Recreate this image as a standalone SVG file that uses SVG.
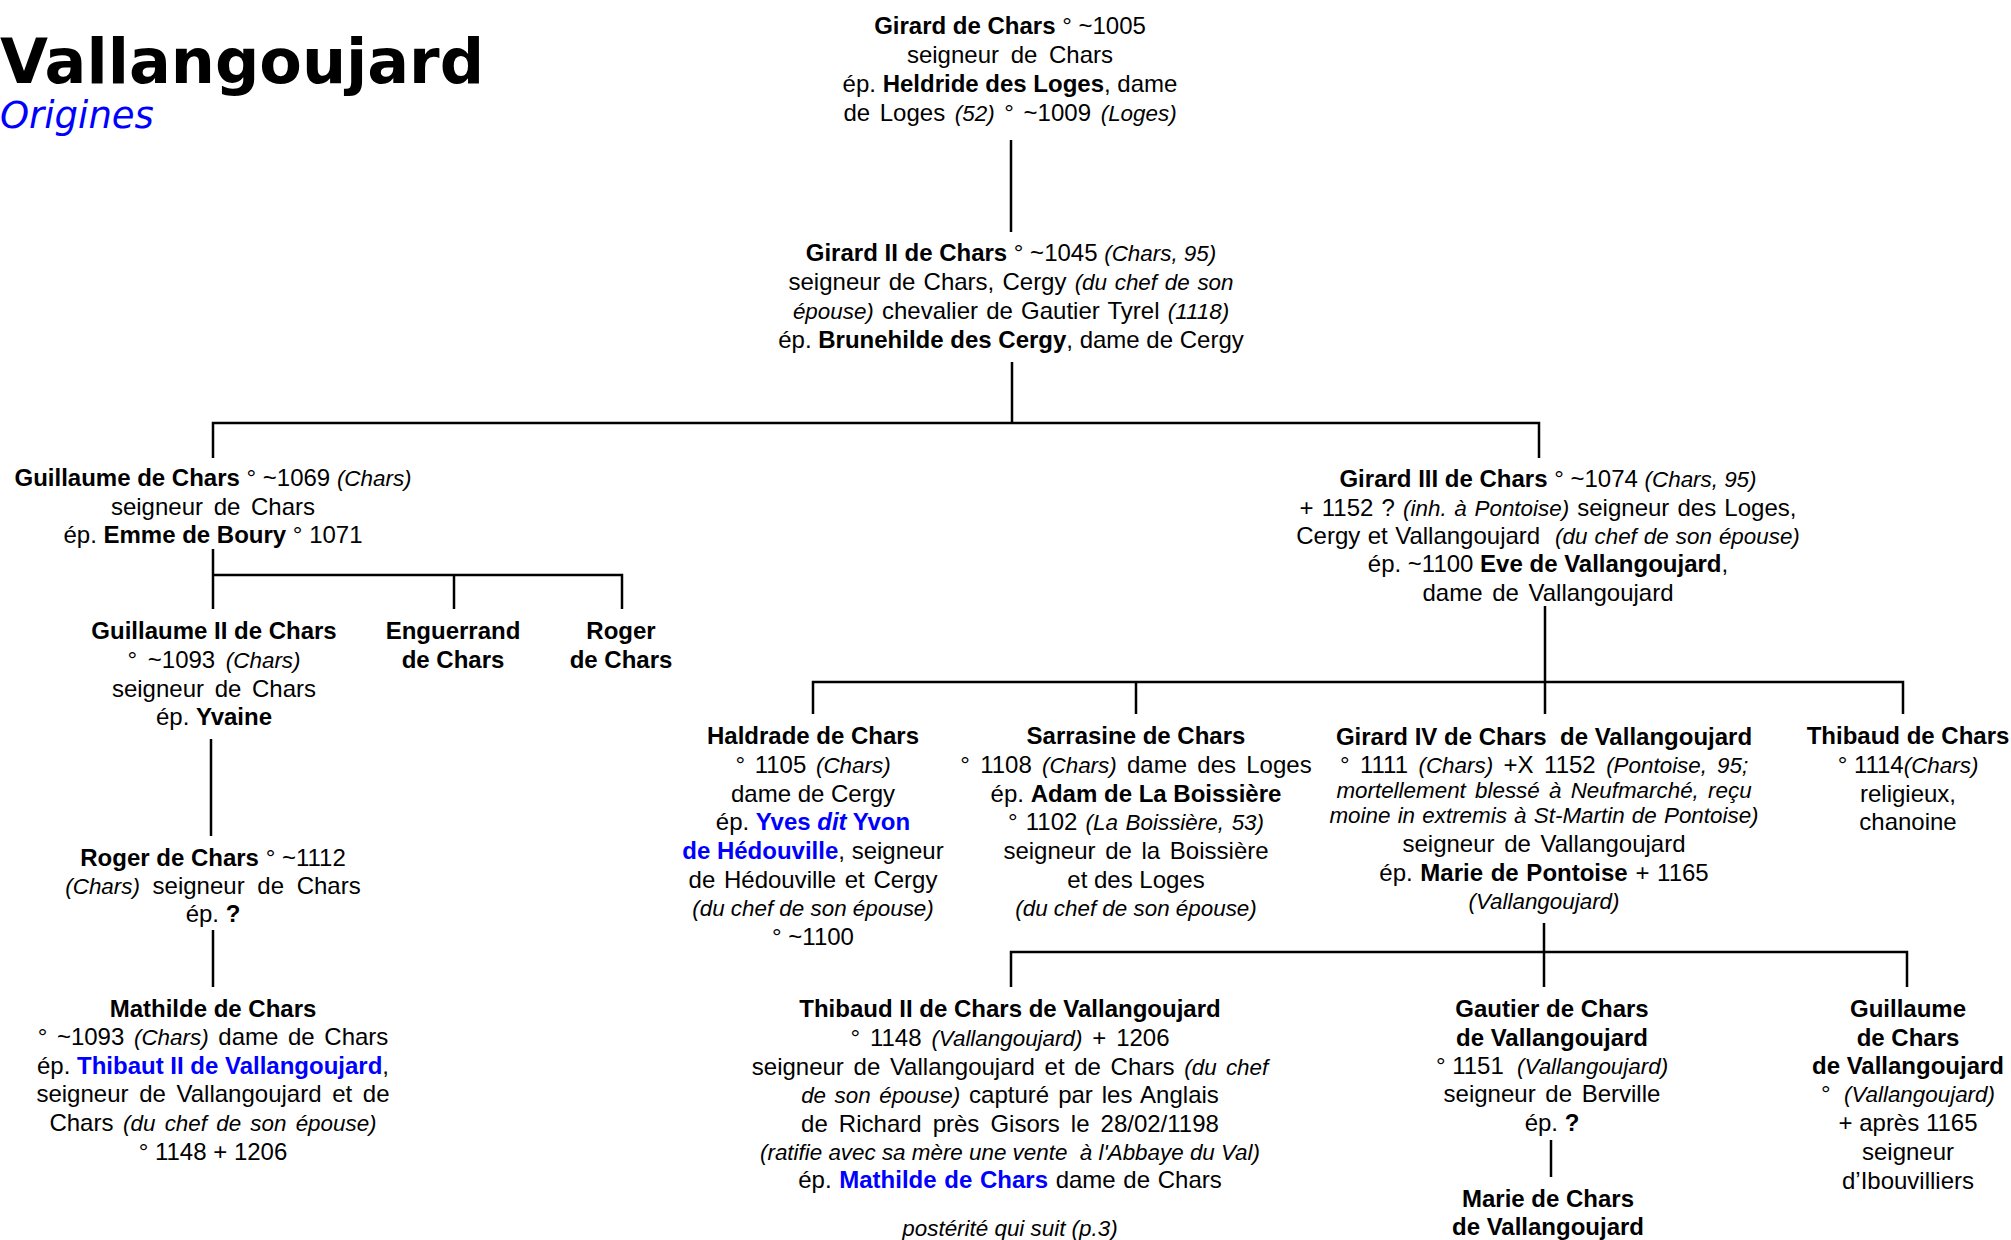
<svg xmlns="http://www.w3.org/2000/svg" width="2011" height="1240" viewBox="0 0 2011 1240">
<style>
.t{font-family:"Liberation Sans",Arial,sans-serif;font-size:24px;fill:#000;text-anchor:middle}
.b{font-weight:bold}
.i{font-style:italic;font-size:22.4px}
.bl{fill:#0000FF}
.ln{stroke:#000;stroke-width:2.5;fill:none}
.title{font-family:"DejaVu Sans",Verdana,sans-serif;font-weight:bold;font-size:62px;fill:#000}
.sub{font-family:"DejaVu Sans",Verdana,sans-serif;font-style:italic;font-size:37px;fill:#0000FF}
</style>
<rect width="2011" height="1240" fill="#fff"/>
<g id="title">
<text class="title" x="0" y="83">Vallangoujard</text>
<text class="sub" x="0" y="128">Origines</text>
</g>
<g id="connectors">
<path class="ln" d="M1011 140V232"/>
<path class="ln" d="M1012 362V423M213 458V423H1539V458"/>
<path class="ln" d="M213 549V609M213 575H622V609M454 575V609"/>
<path class="ln" d="M211 739V836"/>
<path class="ln" d="M213 930V987"/>
<path class="ln" d="M1545 606V714M813 714V682H1903V714M1136 682V714"/>
<path class="ln" d="M1544 923V987M1011 987V952H1907V987"/>
<path class="ln" d="M1551 1140V1177"/>
</g>
<g id="n-girard1">
<text class="t" x="1010" y="34"><tspan class="b">Girard de Chars</tspan> ° ~1005</text>
<text class="t" x="1010" y="63" word-spacing="5">seigneur de Chars</text>
<text class="t" x="1010" y="92">ép. <tspan class="b">Heldride des Loges</tspan>, dame</text>
<text class="t" x="1010" y="121" word-spacing="3">de Loges <tspan class="i">(52)</tspan> ° ~1009 <tspan class="i">(Loges)</tspan></text>
</g>
<g id="n-girard2">
<text class="t" x="1011" y="261"><tspan class="b">Girard II de Chars</tspan> ° ~1045 <tspan class="i">(Chars, 95)</tspan></text>
<text class="t" x="1011" y="290" word-spacing="1.5">seigneur de Chars, Cergy <tspan class="i">(du chef de son</tspan></text>
<text class="t" x="1011" y="319" word-spacing="1.5"><tspan class="i">épouse)</tspan> chevalier de Gautier Tyrel <tspan class="i">(1118)</tspan></text>
<text class="t" x="1011" y="348">ép. <tspan class="b">Brunehilde des Cergy</tspan>, dame de Cergy</text>
</g>
<g id="n-guillaume1">
<text class="t" x="213" y="486"><tspan class="b">Guillaume de Chars</tspan> ° ~1069 <tspan class="i">(Chars)</tspan></text>
<text class="t" x="213" y="515" word-spacing="4">seigneur de Chars</text>
<text class="t" x="213" y="543">ép. <tspan class="b">Emme de Boury</tspan> ° 1071</text>
</g>
<g id="n-guillaume2">
<text class="t b" x="214" y="639">Guillaume II de Chars</text>
<text class="t" x="214" y="668" word-spacing="4">° ~1093 <tspan class="i">(Chars)</tspan></text>
<text class="t" x="214" y="697" word-spacing="4">seigneur de Chars</text>
<text class="t" x="214" y="725">ép. <tspan class="b">Yvaine</tspan></text>
</g>
<g id="n-enguerrand">
<text class="t b" x="453" y="639">Enguerrand</text>
<text class="t b" x="453" y="668">de Chars</text>
</g>
<g id="n-roger1">
<text class="t b" x="621" y="639">Roger</text>
<text class="t b" x="621" y="668">de Chars</text>
</g>
<g id="n-roger2">
<text class="t" x="213" y="866"><tspan class="b">Roger de Chars</tspan> ° ~1112</text>
<text class="t" x="213" y="894" word-spacing="6"><tspan class="i">(Chars)</tspan> seigneur de Chars</text>
<text class="t" x="213" y="922">ép. <tspan class="b">?</tspan></text>
</g>
<g id="n-mathilde">
<text class="t b" x="213" y="1017">Mathilde de Chars</text>
<text class="t" x="213" y="1045" word-spacing="3">° ~1093 <tspan class="i">(Chars)</tspan> dame de Chars</text>
<text class="t" x="213" y="1074">ép. <tspan class="b bl">Thibaut II de Vallangoujard</tspan>,</text>
<text class="t" x="213" y="1102" word-spacing="4">seigneur de Vallangoujard et de</text>
<text class="t" x="213" y="1131" word-spacing="3">Chars <tspan class="i">(du chef de son épouse)</tspan></text>
<text class="t" x="213" y="1160">° 1148 + 1206</text>
</g>
<g id="n-girard3">
<text class="t" x="1548" y="487"><tspan class="b">Girard III de Chars</tspan> ° ~1074 <tspan class="i">(Chars, 95)</tspan></text>
<text class="t" x="1548" y="516" word-spacing="1.5">+ 1152 ? <tspan class="i">(inh. à Pontoise)</tspan> seigneur des Loges,</text>
<text class="t" x="1548" y="544" word-spacing="0.8">Cergy et Vallangoujard &#160;<tspan class="i">(du chef de son épouse)</tspan></text>
<text class="t" x="1548" y="572">ép. ~1100 <tspan class="b">Eve de Vallangoujard</tspan>,</text>
<text class="t" x="1548" y="601" word-spacing="3">dame de Vallangoujard</text>
</g>
<g id="n-haldrade">
<text class="t b" x="813" y="744">Haldrade de Chars</text>
<text class="t" x="813" y="773" word-spacing="3">° 1105 <tspan class="i">(Chars)</tspan></text>
<text class="t" x="813" y="802">dame de Cergy</text>
<text class="t" x="813" y="830">ép. <tspan class="b bl">Yves <tspan font-style="italic">dit</tspan> Yvon</tspan></text>
<text class="t" x="813" y="859"><tspan class="b bl">de Hédouville</tspan>, seigneur</text>
<text class="t" x="813" y="888" word-spacing="2">de Hédouville et Cergy</text>
<text class="t i" x="813" y="916">(du chef de son épouse)</text>
<text class="t" x="813" y="945">° ~1100</text>
</g>
<g id="n-sarrasine">
<text class="t b" x="1136" y="744">Sarrasine de Chars</text>
<text class="t" x="1136" y="773" word-spacing="3.6">° 1108 <tspan class="i">(Chars)</tspan> dame des Loges</text>
<text class="t" x="1136" y="802">ép. <tspan class="b">Adam de La Boissière</tspan></text>
<text class="t" x="1136" y="830" word-spacing="1.5">° 1102 <tspan class="i">(La Boissière, 53)</tspan></text>
<text class="t" x="1136" y="859" word-spacing="3">seigneur de la Boissière</text>
<text class="t" x="1136" y="888">et des Loges</text>
<text class="t i" x="1136" y="916">(du chef de son épouse)</text>
</g>
<g id="n-girard4">
<text class="t b" x="1544" y="745">Girard IV de Chars &#160;de Vallangoujard</text>
<text class="t" x="1544" y="773" word-spacing="3.8">° 1111 <tspan class="i">(Chars)</tspan> +X 1152 <tspan class="i">(Pontoise, 95;</tspan></text>
<text class="t i" x="1544" y="798" word-spacing="3">mortellement blessé à Neufmarché, reçu</text>
<text class="t i" x="1544" y="823" word-spacing="1">moine in extremis à St-Martin de Pontoise)</text>
<text class="t" x="1544" y="852" word-spacing="3">seigneur de Vallangoujard</text>
<text class="t" x="1544" y="881" word-spacing="1">ép. <tspan class="b">Marie de Pontoise</tspan> + 1165</text>
<text class="t i" x="1544" y="909">(Vallangoujard)</text>
</g>
<g id="n-thibaud">
<text class="t b" x="1908" y="744">Thibaud de Chars</text>
<text class="t" x="1908" y="773">° 1114<tspan class="i">(Chars)</tspan></text>
<text class="t" x="1908" y="802">religieux,</text>
<text class="t" x="1908" y="830">chanoine</text>
</g>
<g id="n-thibaud2">
<text class="t b" x="1010" y="1017">Thibaud II de Chars de Vallangoujard</text>
<text class="t" x="1010" y="1046" word-spacing="3.2">° 1148 <tspan class="i">(Vallangoujard)</tspan> + 1206</text>
<text class="t" x="1010" y="1075" word-spacing="3">seigneur de Vallangoujard et de Chars <tspan class="i">(du chef</tspan></text>
<text class="t" x="1010" y="1103" word-spacing="2.3"><tspan class="i">de son épouse)</tspan> capturé par les Anglais</text>
<text class="t" x="1010" y="1132" word-spacing="4.4">de Richard près Gisors le 28/02/1198</text>
<text class="t i" x="1010" y="1160">(ratifie avec sa mère une vente &#160;à l'Abbaye du Val)</text>
<text class="t" x="1010" y="1188" word-spacing="1">ép. <tspan class="b bl">Mathilde de Chars</tspan> dame de Chars</text>
<text class="t i" x="1010" y="1236">postérité qui suit (p.3)</text>
</g>
<g id="n-gautier">
<text class="t b" x="1552" y="1017">Gautier de Chars</text>
<text class="t b" x="1552" y="1046">de Vallangoujard</text>
<text class="t" x="1552" y="1074">° 1151 &#160;<tspan class="i">(Vallangoujard)</tspan></text>
<text class="t" x="1552" y="1102" word-spacing="3">seigneur de Berville</text>
<text class="t" x="1552" y="1131">ép. <tspan class="b">?</tspan></text>
</g>
<g id="n-marie">
<text class="t b" x="1548" y="1207">Marie de Chars</text>
<text class="t b" x="1548" y="1235">de Vallangoujard</text>
</g>
<g id="n-guillaume3">
<text class="t b" x="1908" y="1017">Guillaume</text>
<text class="t b" x="1908" y="1046">de Chars</text>
<text class="t b" x="1908" y="1074">de Vallangoujard</text>
<text class="t" x="1908" y="1102">° &#160;<tspan class="i">(Vallangoujard)</tspan></text>
<text class="t" x="1908" y="1131">+ après 1165</text>
<text class="t" x="1908" y="1160">seigneur</text>
<text class="t" x="1908" y="1189">d’Ibouvilliers</text>
</g>
</svg>
